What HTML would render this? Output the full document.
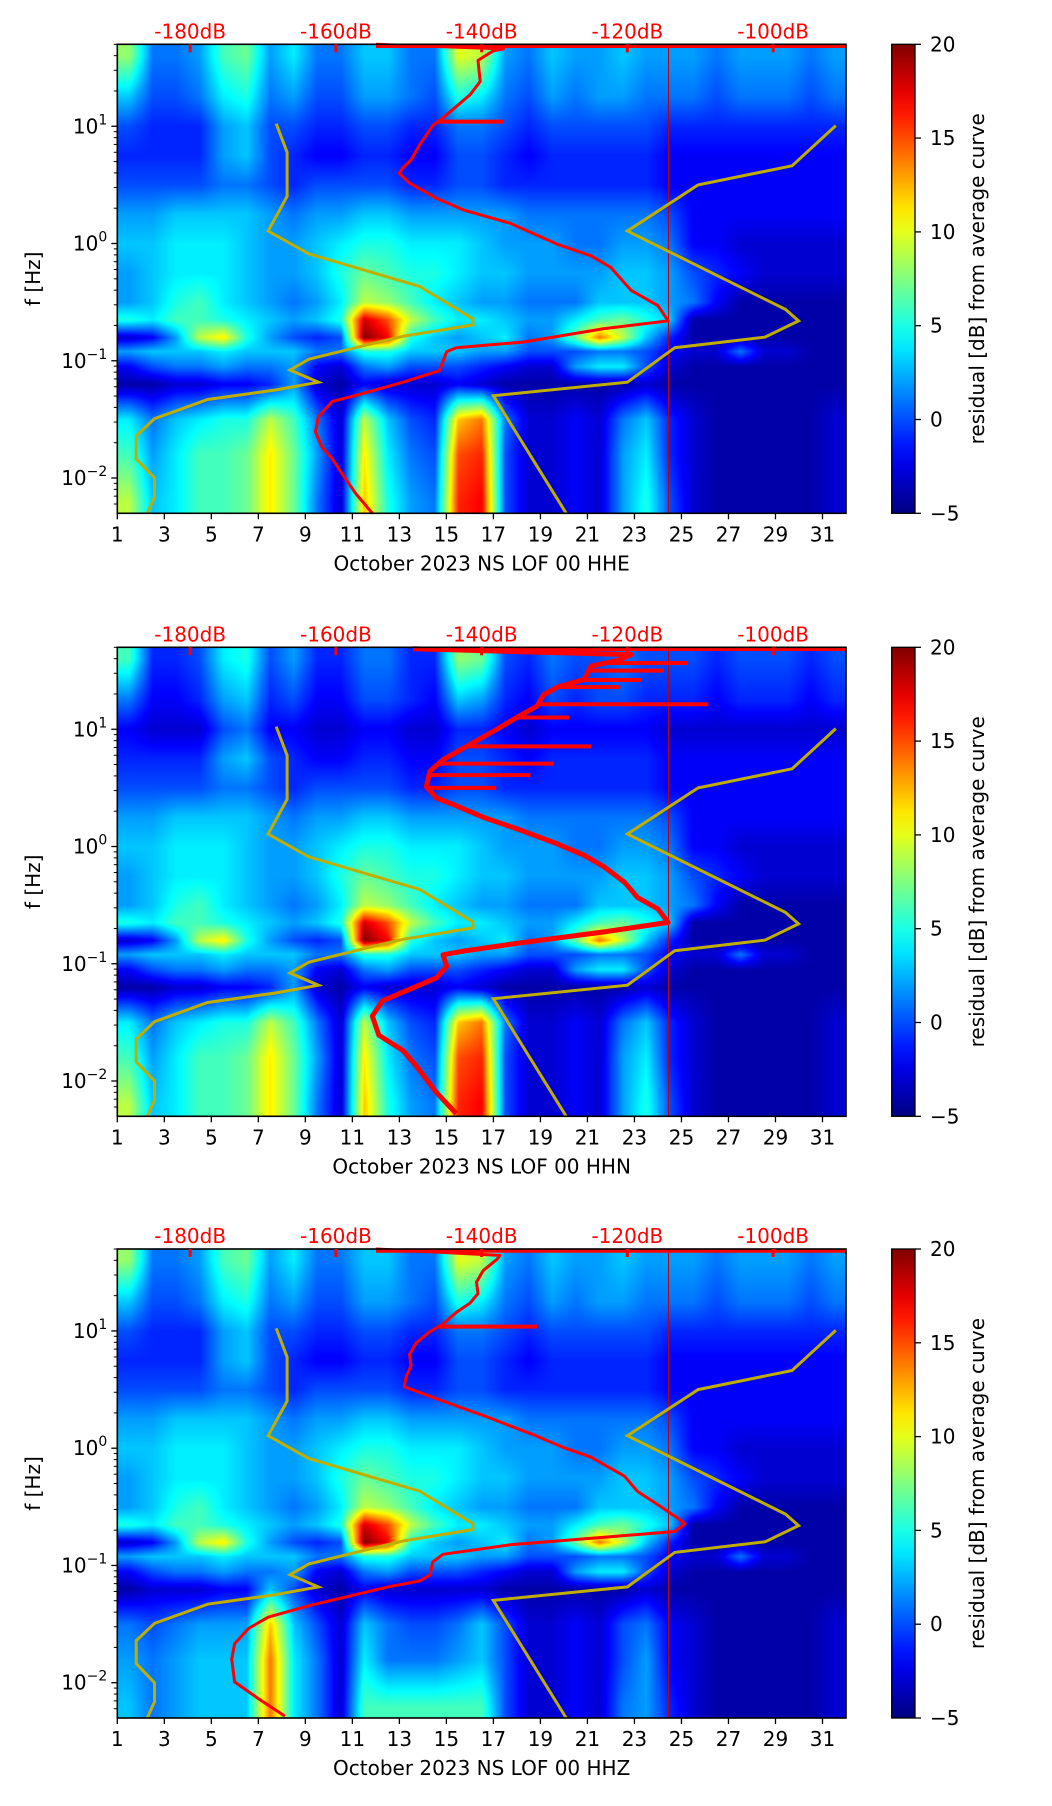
<!DOCTYPE html>
<html><head><meta charset="utf-8"><style>
html,body{margin:0;padding:0;background:#fff;}
#wrap{position:relative;width:1052px;height:1806px;overflow:hidden;font-family:"DejaVu Sans","Liberation Sans",sans-serif;}
canvas{position:absolute;}
svg{position:absolute;left:0;top:0;}
</style></head><body>
<div id="wrap">
<canvas id="c0"></canvas>
<canvas id="c1"></canvas>
<canvas id="c2"></canvas>
<svg id="ov" width="1052" height="1806" xmlns="http://www.w3.org/2000/svg"></svg>
</div>
<script>
// ---------- data ----------
const days = [1,2,3,4,5,6,7,8,9,10,11,12,13,14,15,16,17,18,19,20,21,22,23,24,25,26,27,28,29,30,31];
const rowLogF = [1.6,1.25,1.0,0.75,0.5,0.25,0.0,-0.25,-0.5,-0.65,-0.8,-0.92,-1.05,-1.2,-1.5,-1.8,-2.2];
const residualGrid = [
[8,1,1,2,6,7,2,4,1,1,3,3,1,1,10,9,2,1,3,2,2,3,2,2,2,1,2,2,2,1,2],
[3,0,0,1,4,5,1,2,0,0,2,2,1,0,5,4,1,0,2,1,2,2,1,1,1,0,1,1,1,0,1],
[0,-1,-1,-1,2,3,0,0,-1,-1,0,0,-1,-1,1,1,0,-1,0,0,0,0,0,-1,-1,-1,-1,-1,-1,-1,-1],
[-1,-1,-1,-1,2,3,0,-1,-2,-2,-1,-1,-2,-2,0,0,-1,-2,-1,-1,-1,-1,-1,-2,-2,-2,-2,-2,-2,-2,-2],
[0,0,0,0,1,1,0,-1,0,0,0,0,-1,-1,0,0,-1,-1,-1,-1,-1,-1,-1,-2,-2,-2,-2,-2,-2,-2,-2],
[2,2,3,3,3,3,2,1,2,2,3,3,2,2,2,2,2,1,1,1,1,1,1,0,-2,-2,-2,-2,-2,-2,-2],
[3,3,4,4,4,3,2,2,3,4,5,5,4,4,4,3,2,2,2,1,1,2,2,1,-2,-2,-3,-3,-3,-3,-3],
[2,3,4,4,4,3,2,2,3,5,7,6,5,5,4,3,3,2,2,2,2,3,3,2,0,-1,-2,-3,-3,-3,-3],
[2,3,5,6,4,3,2,1,2,4,9,8,6,4,3,2,2,1,1,1,3,3,3,2,1,-2,-4,-4,-4,-4,-4],
[5,4,6,6,5,4,3,2,3,5,18,15,9,6,4,4,3,2,2,4,6,7,5,3,-4,-4,-4,-4,-4,-4,-4],
[-3,-2,2,9,11,5,2,0,-1,0,20,17,5,3,2,3,4,1,2,7,14,9,3,-1,-4,-4,-4,-4,-4,-4,-4],
[2,3,3,3,4,3,3,3,1,1,5,5,3,3,3,2,2,0,0,0,1,1,0,-2,-3,-3,1,-3,-3,-4,-4],
[-2,0,1,1,2,1,1,2,-2,-3,1,2,0,0,0,-1,-2,-3,-3,2,4,4,0,-3,-4,-4,-4,-4,-4,-4,-4],
[-4,-4,-3,-3,-2,-2,-1,2,-3,-4,-2,-3,-3,-3,-2,-3,-4,-4,-4,-4,-4,-4,-3,-4,-4,-4,-4,-4,-4,-4,-4],
[4,1,3,4,5,5,9,6,1,-3,9,3,0,-1,12,14,1,-3,-3,-2,-3,1,3,-1,-3,-4,-4,-4,-4,-4,-3],
[6,2,4,6,6,7,11,7,2,-3,11,4,1,0,15,16,0,-3,-3,-2,-3,2,4,-1,-3,-4,-4,-4,-4,-4,-3],
[9,3,4,6,6,7,11,7,1,-3,12,5,2,1,16,17,0,-3,-3,-2,-3,2,5,0,-3,-4,-4,-4,-4,-4,-3]
];
const hhzLowRows = [
[-4,-3,-3,-3,-2,-2,3,0,-3,-4,-2,-3,-3,-3,-3,-3,-4,-4,-4,-4,-4,-4,-3,-4,-4,-4,-4,-4,-4,-4,-4],
[1,0,1,2,2,2,12,3,0,-3,3,1,0,0,1,3,0,-3,-3,-2,-3,0,1,-2,-3,-4,-4,-4,-4,-4,-3],
[2,1,2,3,3,3,14,4,1,-3,4,1,1,1,2,3,0,-3,-3,-2,-3,0,2,-2,-3,-4,-4,-4,-4,-4,-3],
[3,1,2,3,3,3,14,4,1,-3,6,6,6,6,6,6,0,-3,-3,-2,-3,1,2,-1,-3,-4,-4,-4,-4,-4,-3]
];
const panelTopOffset = [0,-2,0];
const panelNames = ["HHE","HHN","HHZ"];

const nlnmDB = [-168.2,-166.7,-166.7,-169.3,-163.7,-148.5,-141.2,-141.2,-150.8,-157.3,-163.7,-166.3,-162.4,-168.3,-177.6,-184.9,-187.4,-187.4,-184.9,-184.9,-185.9];
const nlnmLogF = [1.023,0.777,0.402,0.107,-0.089,-0.366,-0.644,-0.693,-0.791,-0.889,-0.987,-1.079,-1.183,-1.249,-1.330,-1.494,-1.641,-1.837,-2.000,-2.164,-2.301];
const nhnmDB = [-91.4,-97.4,-110.3,-120.0,-98.3,-96.5,-101.1,-113.5,-120.0,-138.4,-128.4];
const nhnmLogF = [1.006,0.663,0.500,0.107,-0.562,-0.660,-0.798,-0.889,-1.183,-1.298,-2.301];

const hheDB = [-154.5,-137,-138.4,-140.5,-140.2,-141.6,-145.3,-146.7,-148.5,-149.7,-150.8,-151.3,-149.9,-146.2,-142.5,-136.1,-129.6,-125.0,-122.3,-119.5,-115.8,-114.4,-123.2,-134.2,-143.5,-144.8,-145.8,-150.8,-156.4,-160.5,-162.4,-162.8,-161.9,-160.5,-159.1,-157.3,-155.0];
const hheLogF = [1.699,1.66,1.643,1.562,1.382,1.268,1.072,1.006,0.843,0.712,0.647,0.598,0.516,0.385,0.287,0.173,-0.007,-0.105,-0.203,-0.399,-0.530,-0.660,-0.726,-0.840,-0.889,-0.922,-1.085,-1.183,-1.281,-1.347,-1.477,-1.608,-1.739,-1.837,-1.968,-2.131,-2.301];
const hhnDB = [-149.4,-119.5,-121.3,-125.0,-125.9,-129.6,-131.5,-132.4,-135.2,-137.9,-141.6,-145.3,-147.1,-147.6,-146.2,-143.5,-139.8,-135.2,-129.6,-125.9,-123.2,-120.4,-118.6,-115.8,-114.4,-123.2,-135.2,-142.5,-145.3,-144.8,-146.2,-149.9,-153.6,-155.0,-154.1,-150.8,-149.0,-146.2,-143.5];
const hhnLogF = [1.686,1.637,1.588,1.539,1.425,1.360,1.294,1.197,1.099,1.001,0.870,0.740,0.642,0.511,0.413,0.348,0.250,0.152,0.022,-0.076,-0.174,-0.304,-0.435,-0.533,-0.647,-0.728,-0.826,-0.892,-0.924,-1.022,-1.120,-1.218,-1.316,-1.446,-1.609,-1.740,-1.870,-2.099,-2.278];
const hhzDB = [-154.5,-137.5,-137.9,-139.8,-140.7,-140.5,-141.6,-143.5,-145.3,-147.1,-149.0,-149.9,-149.7,-150.4,-150.6,-147.1,-143.5,-139.8,-132.4,-128.7,-125.0,-122.7,-120.4,-118.6,-115.8,-113.5,-112.1,-113.5,-123.2,-136.1,-145.3,-146.7,-147.1,-148.5,-152.7,-158.2,-163.7,-169.3,-172.0,-173.9,-174.3,-173.9,-170.2,-167.0];
const hhzLogF = [1.699,1.644,1.611,1.514,1.417,1.319,1.238,1.157,1.059,0.994,0.897,0.800,0.702,0.605,0.524,0.443,0.361,0.280,0.102,0.004,-0.077,-0.158,-0.239,-0.369,-0.483,-0.580,-0.645,-0.710,-0.759,-0.824,-0.905,-0.970,-1.083,-1.132,-1.181,-1.262,-1.343,-1.441,-1.538,-1.668,-1.798,-1.993,-2.155,-2.285];
const spikeLogF = [[1.039],[1.565,1.50,1.420,1.36,1.213,1.10,0.854,0.707,0.609,0.50],[1.037]];
const spikeDB = [[-137.0],[-111.7,-115,-118,-121,-108.9,-128,-125.0,-130.1,-133.3,-138],[-132.4]];
const curveDB = [hheDB,hhnDB,hhzDB];
const curveLogF = [hheLogF,hhnLogF,hhzLogF];
const dbTicks = [-180,-160,-140,-120,-100];
const dayTicks = [1,3,5,7,9,11,13,15,17,19,21,23,25,27,29,31];
const decadeTicks = [1,0,-1,-2];
const cbTicks = [20,15,10,5,0,-5];
const markerDay = 24.45;

// ---------- layout ----------
const L=117.3, R=846, W=R-L;
const tops=[44.3,647.3,1249];
const H=469;
const LOGTOP=1.699, LOGBOT=-2.301;
const xDay=d=>L+(d-1)/31*W;
const xDB=db=>L+(db+190)/100*W;
const yF=(p,lf)=>tops[p]+(LOGTOP-lf)/(LOGTOP-LOGBOT)*H;
function jetArr(v){let t=(v+5)/25;t=Math.max(0,Math.min(1,t));
 const c=x=>Math.round(255*Math.max(0,Math.min(1,x)));
 return [c(1.5-Math.abs(4*t-3)),c(1.5-Math.abs(4*t-2)),c(1.5-Math.abs(4*t-1))];}
function jet(v){const a=jetArr(v);return `rgb(${a[0]},${a[1]},${a[2]})`;}

// ---------- heatmaps (bilinear interpolation of the grid) ----------
for(let p=0;p<3;p++){
 const cv=document.getElementById('c'+p);
 const cw=Math.round(W);
 cv.width=cw;cv.height=H;
 cv.style.left=L+'px';cv.style.top=tops[p]+'px';
 const ctx=cv.getContext('2d');
 const img=ctx.createImageData(cw,H);
 const val=(r,i)=>{
  let v;
  if(p===2 && r>=13) v=hhzLowRows[r-13][i]; else v=residualGrid[r][i];
  if(r<3) v+=panelTopOffset[p];
  return v;
 };
 const nR=rowLogF.length, nC=days.length;
 for(let py=0;py<H;py++){
  const lf=LOGTOP-(py/H)*(LOGTOP-LOGBOT);
  let r0=0,rt=0;
  if(lf>=rowLogF[0]){r0=0;rt=0;}
  else if(lf<=rowLogF[nR-1]){r0=nR-2;rt=1;}
  else{for(let r=0;r<nR-1;r++){if(lf<=rowLogF[r]&&lf>=rowLogF[r+1]){r0=r;rt=(rowLogF[r]-lf)/(rowLogF[r]-rowLogF[r+1]);break;}}}
  for(let px=0;px<cw;px++){
   let dc=px/W*31-0.5;
   if(dc<0)dc=0; if(dc>nC-1)dc=nC-1;
   const c0=Math.min(Math.floor(dc),nC-2), ct=dc-c0;
   const a=val(r0,c0)*(1-ct)+val(r0,c0+1)*ct;
   const b=val(r0+1,c0)*(1-ct)+val(r0+1,c0+1)*ct;
   const v=a*(1-rt)+b*rt;
   const col=jetArr(v);
   const k=(py*cw+px)*4;
   img.data[k]=col[0];img.data[k+1]=col[1];img.data[k+2]=col[2];img.data[k+3]=255;
  }
 }
 ctx.putImageData(img,0,0);
}

// ---------- overlay ----------
const NS='http://www.w3.org/2000/svg';
const svg=document.getElementById('ov');
function mk(tag,attrs,parent){const e=document.createElementNS(NS,tag);for(const k in attrs)e.setAttribute(k,attrs[k]);(parent||svg).appendChild(e);return e;}
const defs=mk('defs',{});
const lg=mk('linearGradient',{id:'jetg',x1:0,y1:1,x2:0,y2:0},defs);
for(let i=0;i<=20;i++){mk('stop',{offset:i/20,'stop-color':jet(-5+25*i/20)},lg);}

for(let p=0;p<3;p++){
 const T=tops[p],B=T+H;
 const g=mk('g',{});
 
 
 const ml=mk('line',{x1:xDay(markerDay),x2:xDay(markerDay),y1:T,y2:B,stroke:'#c00000','stroke-width':1},g);
 
 
 const pts=(dbA,lfA)=>dbA.map((d,i)=>xDB(d).toFixed(1)+','+yF(p,lfA[i]).toFixed(1)).join(' ');
 const nl=mk('polyline',{points:pts(nlnmDB,nlnmLogF),fill:'none',stroke:'#bfae00','stroke-width':3},g);
 
 
 const nh=mk('polyline',{points:pts(nhnmDB,nhnmLogF),fill:'none',stroke:'#bfae00','stroke-width':3},g);
 
 
 const tl=mk('line',{x1:xDB(curveDB[p][0]),x2:R,y1:T+2,y2:T+2,stroke:'#ff0000','stroke-width':3.5},g);
 
 
 const pc=mk('polyline',{points:pts(curveDB[p],curveLogF[p]),fill:'none',stroke:'#ff0000','stroke-width':p===1?5:3,'stroke-linejoin':'round'},g);
 
 
 spikeLogF[p].forEach((lf,i)=>{
  let base=curveDB[p][0];const cl=curveLogF[p];
  for(let k=1;k<cl.length;k++){if(cl[k]<=lf){const t=(lf-cl[k-1])/(cl[k]-cl[k-1]);base=curveDB[p][k-1]+t*(curveDB[p][k]-curveDB[p][k-1]);break;}}
  const s=mk('line',{x1:xDB(base),x2:xDB(spikeDB[p][i]),y1:yF(p,lf),y2:yF(p,lf),stroke:'#ff0000','stroke-width':4},g);
  
  
 });
 const fr=mk('rect',{x:L,y:T,width:W,height:H,fill:'none',stroke:'#000','stroke-width':1.6},g);
 
 
 dbTicks.forEach(d=>{
  const t=mk('line',{x1:xDB(d),x2:xDB(d),y1:T,y2:T+8,stroke:'#ff0000','stroke-width':3},g);
  
  
  const tx=mk('text',{x:xDB(d),y:T-6,'text-anchor':'middle','font-size':20,fill:'#ff0000'},g);
  tx.textContent=d+'dB';
  
  
 });
 dayTicks.forEach(d=>{
  const t=mk('line',{x1:xDay(d),x2:xDay(d),y1:B,y2:B+6,stroke:'#000','stroke-width':1.3},g);
  
  
  const tx=mk('text',{x:xDay(d),y:B+28,'text-anchor':'middle','font-size':20,fill:'#000'},g);
  tx.textContent=d;
  
  
 });
 const xl=mk('text',{x:(L+R)/2,y:B+57,'text-anchor':'middle','font-size':20,fill:'#000'},g);
 xl.textContent='October 2023 NS LOF 00 '+panelNames[p];
 
 
 for(let dcd=-3;dcd<=1;dcd++){for(let m=1;m<10;m++){
  const lf=dcd+Math.log10(m); if(lf>LOGTOP||lf<LOGBOT)continue;
  const major=m===1;
  const t=mk('line',{x1:L-(major?6:3.5),x2:L,y1:yF(p,lf),y2:yF(p,lf),stroke:'#000','stroke-width':major?1.3:1},g);
  
  
 }}
 decadeTicks.forEach(dc=>{
  const tx=mk('text',{x:L-10,y:yF(p,dc)+7,'text-anchor':'end','font-size':20,fill:'#000'},g);
  
  
  const a=mk('tspan',{},tx);a.textContent='10';
  const b=mk('tspan',{dy:-9,'font-size':14},tx);b.textContent=dc<0?'\u2212'+(-dc):String(dc);
 });
 const yl=mk('text',{x:0,y:0,'text-anchor':'middle','font-size':20,fill:'#000',transform:`translate(40,${T+H/2}) rotate(-90)`},g);
 yl.textContent='f [Hz]';
 
 
 const cb=mk('rect',{x:891.7,y:T,width:23.3,height:H,fill:'url(#jetg)',stroke:'#000','stroke-width':1.3},g);
 
 
 cbTicks.forEach(v=>{
  const yy=T+(20-v)/25*H;
  const t=mk('line',{x1:915,x2:921,y1:yy,y2:yy,stroke:'#000','stroke-width':1.3},g);
  
  
  const tx=mk('text',{x:930,y:yy+7,'font-size':20,fill:'#000'},g);
  tx.textContent=v<0?'\u2212'+(-v):String(v);
  
  
 });
 const cl=mk('text',{x:0,y:0,'text-anchor':'middle','font-size':20,fill:'#000',transform:`translate(984,${T+H/2}) rotate(-90)`},g);
 cl.textContent='residual [dB] from average curve';
 
 
}
</script>
</body></html>
